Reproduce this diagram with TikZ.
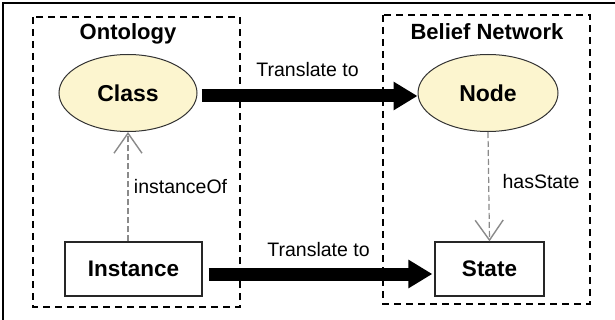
\documentclass[tikz,border=0pt]{standalone}
\usepackage{fontspec}
\setmainfont{Liberation Sans}
\usetikzlibrary{shapes.geometric,arrows.meta}
\definecolor{classfill}{HTML}{FCF5CF}
\definecolor{linkgray}{HTML}{8A8A8A}
\tikzset{
  group/.style={line width=2.2pt,dash pattern=on 7pt off 5pt},
  concept/.style={ellipse,draw=black!80,fill=classfill,line width=1pt,
    minimum width=138pt,minimum height=77pt,font=\fontsize{23}{26}\selectfont\bfseries},
  item/.style={rectangle,draw=black!85,line width=1.3pt,
    minimum width=137pt,minimum height=54pt,font=\fontsize{22.5}{26}\selectfont\bfseries},
  title/.style={font=\fontsize{22}{26}\selectfont\bfseries},
  lbl/.style={font=\fontsize{19.5}{22}\selectfont},
  translate/.style={line width=13pt,-{Triangle[width=27pt,length=24pt]}},
  link/.style={draw=linkgray,line width=1.2pt,dash pattern=on 6pt off 3pt,
    -{Straight Barb[length=20pt,width=28pt,line width=1.4pt]}}
}
\begin{document}
\begin{tikzpicture}[x=1pt,y=-1pt]
  \useasboundingbox (0,0) rectangle (615,320);
  \draw[line width=1.2pt] (3,340) |- (640,3);
  % the two groups
  \draw[group] (33,17) rectangle (240,307);
  \draw[group] (383,15) rectangle (590,304);
  \node[title] (onto) at (128,34) {Ontology};
  \node[title] (bn) at (487,32) {Belief Network};
  % ontology side
  \node[concept] (cls) at (128,93) {Class};
  \node[item,minimum width=137pt] (inst) at (133.5,269) {Instance};
  % network side
  \node[concept,minimum width=140pt] (nd) at (488,93) {Node};
  \node[item,minimum width=109pt] (st) at (489.5,269) {State};
  % links
  \draw[link] (inst.north -| cls.south) -- (cls.south)
    node[lbl,pos=0.5,right=2pt,anchor=west] (io) {instanceOf};
  \draw[link] (nd.south) -- (st.north)
    node[lbl,pos=0.45,anchor=west,xshift=10pt] (hs) {hasState};
  \draw[translate,shorten <=4pt] ([yshift=-3pt]cls.east) -- ([yshift=-3pt]nd.west)
    node[lbl,midway,yshift=26pt] (t1) {Translate to};
  \draw[translate,shorten <=6pt,shorten >=2pt] ([yshift=-5pt]inst.east) -- ([yshift=-5pt]st.west)
    node[lbl,midway,yshift=24pt] (t2) {Translate to};
\end{tikzpicture}
\end{document}
